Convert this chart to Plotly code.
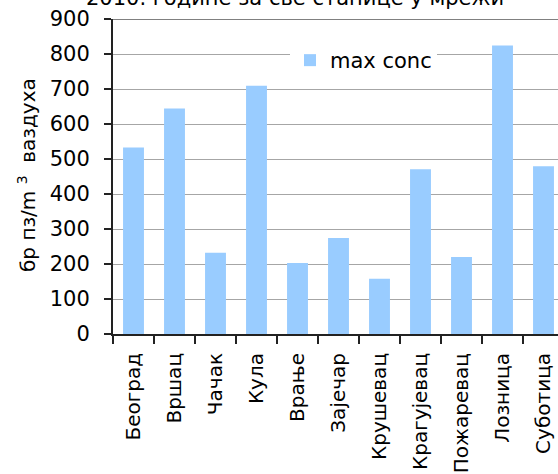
import plotly.graph_objects as go

stations = ["Београд", "Вршац", "Чачак", "Кула", "Врање", "Зајечар",
            "Крушевац", "Крагујевац", "Пожаревац", "Лозница", "Суботица"]
max_conc = [533, 644, 232, 709, 203, 274, 158, 471, 220, 824, 479]
series_name = "max conc"
title_text = "2010. године за све станице у мрежи"
y_title = "бр пз/m\u00a0<sup>3</sup>\u00a0\u00a0ваздуха"
y_ticks = [0, 100, 200, 300, 400, 500, 600, 700, 800, 900]

FONT = "DejaVu Sans"
W, H = 558, 474
ML, MT, MB, MR = 113, 19, 140, 0
plot_w = W - ML - MR
plot_h = H - MT - MB
cat_px = 41.0

fig = go.Figure()
fig.add_trace(go.Bar(
    x=stations, y=max_conc, name=series_name,
    marker=dict(color="#99CCFF", line=dict(width=0)),
    showlegend=True,
))

fig.update_layout(
    width=W, height=H,
    margin=dict(l=ML, r=MR, t=MT, b=MB, pad=0),
    paper_bgcolor="white", plot_bgcolor="white",
    bargap=0.49,
    showlegend=True,
    font=dict(family=FONT, size=20, color="black"),
    legend=dict(
        x=(290 - ML) / plot_w, xanchor="left",
        y=1 - (40 - MT) / plot_h, yanchor="top",
        bgcolor="white", borderwidth=0,
        font=dict(family=FONT, size=21, color="black"),
        itemsizing="constant",
    ),
    xaxis=dict(
        range=[-0.5, -0.5 + plot_w / cat_px],
        showgrid=False, zeroline=False,
        showline=True, linecolor="#222", linewidth=2,
        ticks="outside", ticklen=8, tickcolor="#222", tickwidth=1.5,
        tickson="boundaries",
        tickangle=-90,
        tickfont=dict(family=FONT, size=20, color="black"),
        ticklabelstandoff=9,
    ),
    yaxis=dict(
        range=[0, 900],
        tickvals=y_ticks,
        showgrid=True, gridcolor="#a6a6a6", gridwidth=1,
        zeroline=False,
        showline=True, linecolor="#222", linewidth=2,
        ticks="outside", ticklen=7, tickcolor="#222", tickwidth=1.5,
        tickfont=dict(family=FONT, size=21, color="black"),
        ticklabelstandoff=10,
    ),
    shapes=[dict(type="line", xref="paper", yref="y", x0=0, x1=1, y0=900, y1=900,
                 line=dict(color="#808080", width=2))],
    annotations=[
        dict(text=title_text, xref="paper", yref="paper",
             x=(294.5 - ML) / plot_w, y=1 + (MT - 12) / plot_h,
             xanchor="center", yanchor="bottom", showarrow=False,
             font=dict(family=FONT, size=21, color="black")),
        dict(text=y_title, xref="paper", yref="paper",
             x=(27 - ML) / plot_w, y=1 - (175 - MT) / plot_h,
             xanchor="center", yanchor="middle", textangle=-90, showarrow=False,
             font=dict(family=FONT, size=20, color="black")),
    ],
)

fig.write_html("out.html")
